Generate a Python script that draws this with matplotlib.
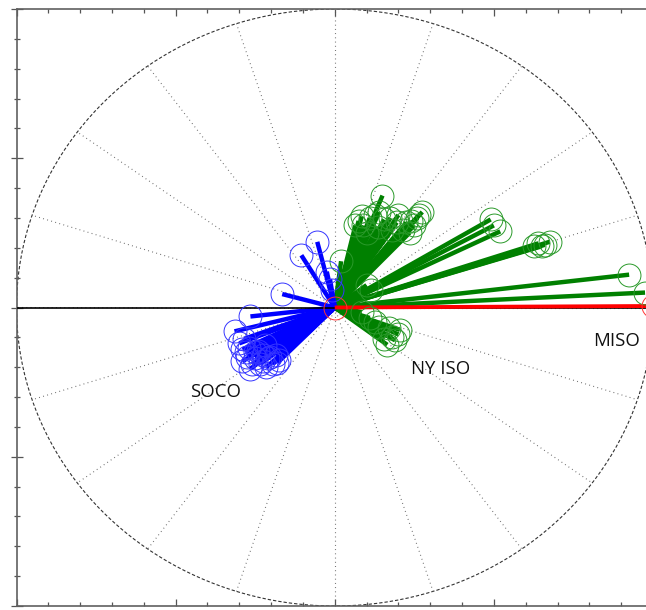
#!/usr/bin/python

import numpy as np
import matplotlib
matplotlib.use('Agg')
import matplotlib.pyplot as plt
from matplotlib.ticker import MultipleLocator

# phasor tips (real, imag) relative to the MISO reference
green_re = [0.30, 0.53, 0.55, 0.45, 0.39, 0.31, 0.22, 0.17, 0.18, 0.27, 0.43, 0.50,
            0.25, 0.35, 0.48, 0.40, 0.13, 0.20, 0.36, 0.47, 0.52, 0.28, 0.15,
            0.04, 0.20, 0.23,
            0.98, 1.04, 1.00, 1.25, 1.28, 1.30, 1.32, 1.35, 1.85, 1.95,
            0.40, 0.33, 0.36, 0.28, 0.22, 0.17, 0.41, 0.38, 0.31, 0.34, 0.25]
green_im = [0.75, 0.62, 0.64, 0.57, 0.57, 0.59, 0.60, 0.61, 0.55, 0.54, 0.52, 0.55,
            0.62, 0.60, 0.58, 0.62, 0.55, 0.50, 0.52, 0.50, 0.60, 0.64, 0.58,
            0.31, 0.15, 0.12,
            0.59, 0.51, 0.55, 0.41, 0.43, 0.41, 0.42, 0.44, 0.22, 0.10,
            -0.18, -0.25, -0.20, -0.13, -0.07, -0.03, -0.15, -0.22, -0.21, -0.14, -0.10]

blue_re = [-0.11, -0.21, -0.05, -0.03, -0.02, -0.33, -0.53, -0.63, -0.57, -0.58, -0.55,
           -0.52, -0.45, -0.41, -0.36, -0.35, -0.48, -0.44,
           -0.60, -0.56, -0.50, -0.47, -0.43, -0.39, -0.54, -0.50, -0.45,
           -0.58, -0.53, -0.42, -0.37]
blue_im = [0.44, 0.35, 0.24, 0.19, 0.12, 0.09, -0.06, -0.16, -0.21, -0.28, -0.33,
           -0.38, -0.36, -0.33, -0.37, -0.35, -0.29, -0.25,
           -0.24, -0.30, -0.34, -0.38, -0.40, -0.38, -0.27, -0.30, -0.32,
           -0.36, -0.41, -0.34, -0.32]

ref_re = [2.0]
ref_im = [0.01]

labels = ['SOCO', 'NY ISO', 'MISO']
label_x = [-0.75, 0.667, 1.774]
label_y = [-0.603, -0.447, -0.26]

R = 2.0

fig = plt.figure(figsize=(6.46, 6.10), dpi=100)
ax = fig.add_axes([16.5 / 646, 1 - 606 / 610, 1 - 16.5 / 646, 597 / 610])

# outer ring and spokes every 18 degrees
t = np.linspace(0, 2 * np.pi, 400)
ax.plot(R * np.cos(t), R * np.sin(t), color='#333333', lw=0.8, dashes=(3, 1.8), zorder=1)
for a in np.deg2rad(np.arange(0, 360, 18)):
    ax.plot([0, R * np.cos(a)], [0, R * np.sin(a)], color='#666666', lw=0.8,
            dashes=(0.8, 3.0), zorder=1)

lw = 3.2
ms = 16.5
for x, y in zip(green_re, green_im):
    ax.plot([0, x], [0, y], color='#008000', lw=lw, solid_capstyle='butt', zorder=2)
for x, y in zip(blue_re, blue_im):
    ax.plot([0, x], [0, y], color='#0000ff', lw=lw, solid_capstyle='butt', zorder=3)

ax.axhline(0, color='black', lw=1.2, zorder=4)

for x, y in zip(ref_re, ref_im):
    ax.plot([0, x], [0, y], color='#ff0000', lw=2.8, solid_capstyle='butt', zorder=5)

ax.plot(green_re, green_im, 'o', ms=ms, mfc='none', mec='#2a9a2a', mew=0.7, zorder=6)
ax.plot(blue_re, blue_im, 'o', ms=ms, mfc='none', mec='#3535ff', mew=0.7, zorder=6)
ax.plot([0] + ref_re, [0] + ref_im, 'o', ms=ms, mfc='none', mec='#ff3333', mew=0.7, zorder=6)

for s, x, y in zip(labels, label_x, label_y):
    ax.text(x, y, s, ha='center', va='baseline', fontsize=13.4,
            family='Open Sans', color='#111111', zorder=7)

ax.set_xlim(-2, 1.956)
ax.set_ylim(-2, 2)

ax.xaxis.set_major_locator(MultipleLocator(1))
ax.xaxis.set_minor_locator(MultipleLocator(0.2))
ax.yaxis.set_major_locator(MultipleLocator(1))
ax.yaxis.set_minor_locator(MultipleLocator(0.2))
ax.tick_params(axis='x', which='both', direction='in', top=True, bottom=True,
               labelbottom=False, color='#555555', width=0.9)
ax.tick_params(axis='x', which='major', length=5)
ax.tick_params(axis='x', which='minor', length=3)
ax.tick_params(axis='y', which='both', direction='inout', left=True, right=False,
               labelleft=False, color='#555555', width=0.9)
ax.tick_params(axis='y', which='major', length=9)
ax.tick_params(axis='y', which='minor', length=5)

for side in ['left', 'top', 'bottom']:
    ax.spines[side].set_color('#606060')
    ax.spines[side].set_linewidth(1.2)
ax.spines['right'].set_visible(False)

plt.savefig('out.png', dpi=100)
